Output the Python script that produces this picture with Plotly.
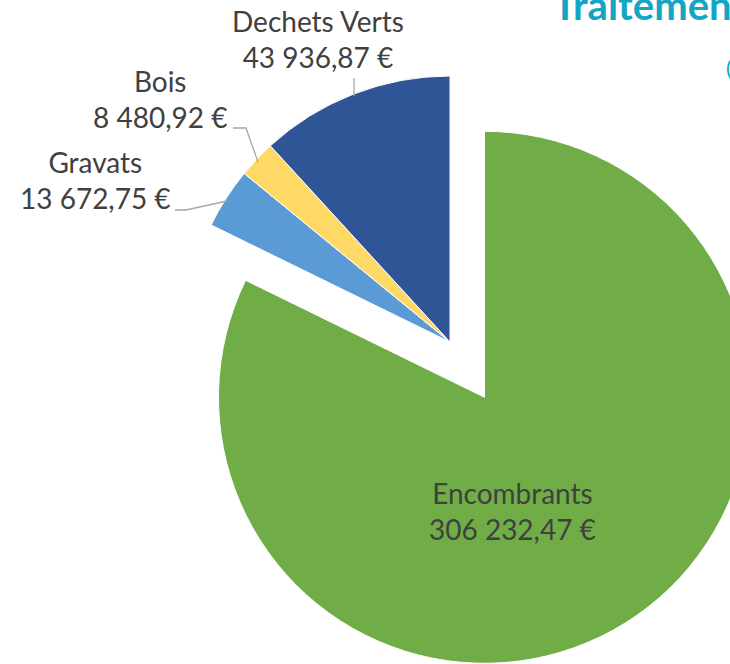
import plotly.graph_objects as go

categories = ["Encombrants", "Gravats", "Bois", "Dechets Verts"]
values = [306232.47, 13672.75, 8480.92, 43936.87]
colors = ["#70AD47", "#5B9BD5", "#FFD966", "#2F5597"]
pulls = [0.245, 0, 0, 0]

title_text = "Traitement des déchets"

def euro(v):
    return f"{v:,.2f}".replace(",", " ").replace(".", ",") + " €"

W, H = 900, 684
CX, CY, R = 450, 342, 266
half = R * (1 + max(pulls))

fig = go.Figure(go.Pie(
    labels=categories, values=values, sort=False, direction="clockwise", rotation=0,
    marker=dict(colors=colors, line=dict(color="white", width=1)),
    pull=pulls, textinfo="none", hoverinfo="skip", showlegend=False,
    domain=dict(x=[(CX - half) / W, (CX + half) / W], y=[0, 1]),
))

def px(x):
    return x / W

def py(y):
    return 1 - y / H

font = dict(family="Lato", size=28, color="#404040")
label_pos = {
    "Dechets Verts": (318, 39),
    "Bois": (160, 99),
    "Gravats": (95, 180),
    "Encombrants": (512, 511),
}
anns = []
for c, v in zip(categories, values):
    x, y = label_pos[c]
    anns.append(dict(x=px(x), y=py(y), xref="paper", yref="paper", showarrow=False,
                     text=f"{c}<br>{euro(v)}", font=font, align="center",
                     xanchor="center", yanchor="middle"))

anns.append(dict(x=px(551), y=py(5), xref="paper", yref="paper", showarrow=False,
                 text=f"<b>{title_text}</b>", font=dict(family="Lato", size=40, color="#12A5C4"),
                 xanchor="left", yanchor="middle"))
anns.append(dict(x=px(724), y=py(67), xref="paper", yref="paper", showarrow=False,
                 text="(en €)", font=dict(family="Lato", size=22, color="#12A5C4"),
                 xanchor="left", yanchor="middle"))

leaders = [
    [(354, 78), (354, 96)],
    [(233, 128), (246, 128), (258, 162)],
    [(175, 210), (186, 210), (227, 201)],
]
shapes = []
for pts in leaders:
    path = "M " + " L ".join(f"{px(x)},{py(y)}" for x, y in pts)
    shapes.append(dict(type="path", path=path, xref="paper", yref="paper",
                       line=dict(color="#A6A6A6", width=1.3)))

fig.update_layout(width=W, height=H, margin=dict(l=0, r=0, t=0, b=0),
                  paper_bgcolor="white", plot_bgcolor="white",
                  annotations=anns, shapes=shapes)

fig.write_html("out.html",
               post_script="document.body.style.margin='0';document.body.style.overflow='hidden';")
